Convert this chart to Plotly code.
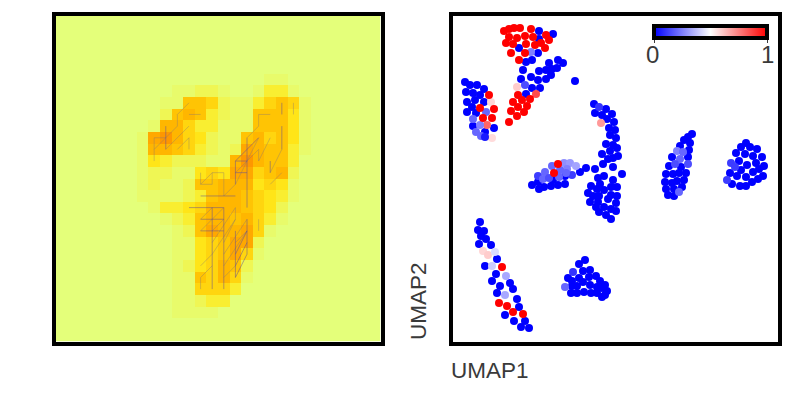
import plotly.graph_objects as go

# relevance map, one digit per pixel (28 x 28 digit), 0 = background
relevance_rows = [
    "0000000000000000000000000000",
    "0000000000000000000000000000",
    "0000000000000000000000000000",
    "0000000000000000000000000000",
    "0000000000000000000000000000",
    "0000000000000000001100000000",
    "0000000000112210013310000000",
    "0000000001166521135651000000",
    "0000000002676321166641000000",
    "0000000017753311166641000000",
    "0000000189754211675641000000",
    "0000000177653212876631000000",
    "0000000143222117976630000000",
    "0000000122114548856720000000",
    "0000000121126677745410000000",
    "0000000111123677654310000000",
    "0000000013345777654200000000",
    "0000000001236776753100000000",
    "0000000000126877851000000000",
    "0000000000114568820000000000",
    "0000000000114568510000000000",
    "0000000000124576200000000000",
    "0000000000116575100000000000",
    "0000000000115553000000000000",
    "0000000000112330000000000000",
    "0000000000111100000000000000",
    "0000000000000000000000000000",
    "0000000000000000000000000000",
]
digit_value = [0, 0.04, 0.1, 0.19, 0.27, 0.36, 0.46, 0.56, 0.68, 0.82]
wistia = [[0, "#E4FF7A"], [0.25, "#FFE81A"], [0.5, "#FFBD00"], [0.75, "#FFA000"], [1, "#FC7F00"]]

# strokes over the map: col0, row0, col1, row1
strong_strokes = [
    (13, 16, 13, 23), (14, 16, 14, 23), (15, 18, 15, 22), (16, 17, 16, 20),
    (16, 10, 16, 16), (15, 12, 15, 14), (15, 13, 16, 13), (15, 12, 16, 12),
    (12, 18, 14, 18), (12, 17, 14, 17), (11, 16, 14, 16), (12, 15, 15, 15),
    (9, 9, 9, 11), (19, 9, 19, 11), (19, 7, 19, 8), (18, 12, 18, 13),
    (15, 12, 17, 10), (15, 21, 16, 19), (15, 20, 16, 18), (15, 22, 16, 20),
]
faint_strokes = [
    (12, 18, 14, 16), (13, 18, 14, 17), (12, 17, 13, 16), (15, 16, 15, 17),
    (12, 22, 12, 23), (12, 22, 13, 21), (13, 20, 12, 21), (14, 21, 16, 18),
    (14, 20, 16, 17), (15, 19, 16, 18), (14, 22, 15, 21), (13, 19, 15, 16),
    (13, 20, 15, 17), (14, 19, 15, 17), (17, 17, 17, 18),
    (8, 10, 9, 10), (8, 10, 8, 12), (8, 11, 10, 9), (10, 8, 11, 7), (10, 8, 10, 9),
    (9, 11, 11, 9), (10, 11, 11, 10), (11, 10, 11, 11), (11, 8, 12, 8),
    (20, 7, 20, 8), (17, 8, 18, 8), (16, 10, 17, 9), (17, 8, 17, 9),
    (18, 13, 19, 11), (18, 14, 19, 13), (15, 14, 17, 10), (15, 13, 16, 12),
    (16, 12, 17, 11), (17, 11, 17, 12), (17, 12, 18, 10),
    (12, 13, 12, 14), (12, 14, 13, 14), (12, 14, 13, 13), (13, 13, 13, 14),
    (13, 13, 14, 13), (14, 13, 14, 15), (14, 15, 15, 14),
]

# UMAP embedding, split by expression level
zero_u1 = [539, 553, 539, 519, 538, 526, 532, 549, 558, 563, 557, 552, 546, 539, 523, 551, 531, 521, 538, 546,
           532, 540, 526, 575, 465, 470, 477, 484, 466, 473, 480, 467, 475, 484, 472, 467, 476, 473, 494, 485,
           594, 595, 602, 606, 612, 607, 614, 609, 615, 610, 616, 606, 613, 617, 610, 602, 618, 613, 608, 603,
           613, 595, 586, 580, 622, 604, 598, 613, 600, 591, 611, 617, 597, 604, 588, 593, 611, 617, 599, 608,
           598, 590, 616, 596, 604, 611, 616, 599, 606, 611, 532, 539, 538, 544, 551, 558, 565, 565, 553,
           692, 688, 684, 690, 680, 689, 688, 672, 669, 681, 686, 666, 673, 679, 684, 665, 672, 677, 682, 666,
           674, 668, 674, 746, 741, 750, 757, 736, 745, 753, 762, 739, 756, 747, 764, 741, 759, 753, 730, 737,
           746, 763, 758, 752, 732, 740, 746, 480, 478, 484, 481, 486, 479, 491, 497, 485, 496, 492, 510, 500,
           513, 497, 517, 519, 505, 514, 525, 521, 529, 585, 579, 590, 583, 596, 589, 579, 568, 572, 600, 583,
           572, 577, 590, 605, 597, 602, 607, 571, 577, 584, 591, 597, 605, 602]
zero_u2 = [31, 34, 39, 48, 53, 62, 60, 63, 60, 63, 68, 69, 70, 71, 70, 75, 77, 79, 80, 79,
           88, 88, 94, 81, 82, 85, 85, 89, 92, 93, 95, 102, 100, 102, 107, 112, 113, 126, 128, 132,
           104, 113, 115, 109, 114, 119, 122, 128, 130, 135, 138, 144, 145, 148, 151, 154, 156, 158, 159, 164,
           167, 169, 168, 172, 174, 176, 178, 180, 184, 186, 187, 187, 189, 190, 193, 196, 195, 196, 196, 199,
           202, 202, 203, 207, 207, 209, 211, 212, 215, 219, 185, 189, 182, 187, 186, 185, 184, 176, 180,
           134, 137, 140, 143, 146, 150, 157, 157, 166, 167, 173, 174, 174, 173, 180, 182, 183, 181, 187, 189,
           189, 195, 196, 143, 147, 147, 149, 153, 154, 156, 157, 161, 163, 165, 166, 170, 169, 172, 173, 176,
           177, 176, 179, 182, 184, 186, 186, 222, 230, 231, 236, 239, 244, 245, 259, 266, 274, 281, 283, 286,
           289, 293, 299, 307, 315, 321, 321, 327, 328, 260, 264, 270, 271, 276, 277, 278, 278, 281, 281, 282,
           286, 286, 285, 285, 287, 288, 291, 293, 293, 292, 293, 293, 295, 297]

one_u1 = [504, 509, 514, 520, 531, 509, 517, 525, 533, 546, 549, 506, 513, 526, 535, 541, 545, 511, 525, 519,
          518, 530, 522, 513, 527, 518, 511, 524, 517, 509, 489, 494, 480, 483, 492, 558, 554, 502, 499, 507,
          513, 523]
one_u2 = [31, 29, 28, 28, 29, 37, 38, 36, 37, 35, 40, 43, 44, 44, 45, 43, 48, 53, 53, 60,
          95, 99, 100, 102, 106, 107, 111, 112, 116, 122, 95, 109, 108, 118, 118, 164, 173, 267, 303, 306,
          312, 314]

mid_u1 = [531, 525, 517, 536, 491, 487, 492, 486, 473, 480, 476, 481, 485, 599, 601, 564, 570, 576, 552, 567,
          560, 545, 572, 538, 543, 549, 559, 566, 677, 683, 680, 675, 688, 679, 731, 735, 727, 483, 488, 495,
          492, 506, 505, 573, 565]
mid_u2 = [52, 85, 87, 94, 102, 125, 138, 112, 119, 125, 132, 136, 137, 107, 123, 163, 163, 166, 166, 169,
          170, 172, 175, 176, 179, 178, 177, 173, 151, 152, 159, 164, 164, 192, 163, 167, 180, 251, 255, 252,
          266, 276, 295, 272, 287]
mid_level = [.25, .15, .6, .85, .58, .8, .57, .2, .2, .25, .2, .2, .05, .1, .7, .28, .3, .32, .2, .25,
             .2, .2, .12, .12, .2, .15, .2, .2, .25, .2, .2, .15, .15, .2, .12, .12, .12, .58, .6, .43,
             .4, .33, .33, .1, .2]

umap1 = zero_u1 + mid_u1 + one_u1
umap2 = zero_u2 + mid_u2 + one_u2
level = [0] * len(zero_u1) + mid_level + [1] * len(one_u1)


def stroke_path(strokes):
    xs, ys = [], []
    for c0, r0, c1, r1 in strokes:
        xs += [c0, c1, None]
        ys += [r0, r1, None]
    return xs, ys


# the page body has an 8px margin, so the figure sits 8px in from the window corner
PAD = 8
W, H = 793 - PAD, 397 - PAD
TEXT = "#3a3a3a"


def fx(px):
    return (px - PAD) / W


def fy(py):
    return 1 - (py - PAD) / H


fig = go.Figure()

z = [[digit_value[int(d)] for d in row] for row in relevance_rows]
fig.add_trace(go.Heatmap(z=z, colorscale=wistia, zmin=0, zmax=1, showscale=False, xaxis="x", yaxis="y"))

faint_x, faint_y = stroke_path(faint_strokes)
strong_x, strong_y = stroke_path(strong_strokes)
fig.add_trace(go.Scatter(x=faint_x, y=faint_y, mode="lines", xaxis="x", yaxis="y", showlegend=False,
                         line=dict(color="rgba(125,115,120,0.4)", width=0.9)))
fig.add_trace(go.Scatter(x=strong_x, y=strong_y, mode="lines", xaxis="x", yaxis="y", showlegend=False,
                         line=dict(color="rgba(95,75,150,0.55)", width=0.9)))

fig.add_trace(go.Scatter(
    x=umap1, y=umap2, mode="markers", xaxis="x2", yaxis="y2", showlegend=False,
    marker=dict(
        size=8, color=level, cmin=0, cmax=1,
        colorscale=[[0, "#0000FF"], [0.5, "#FFFFFF"], [1, "#FF0000"]],
        colorbar=dict(
            orientation="h", lenmode="pixels", len=113, thickness=12,
            x=fx(654), xanchor="left", y=fy(26), yanchor="top", xpad=0, ypad=0,
            outlinewidth=4, outlinecolor="black", tickvals=[0, 1], ticks="outside",
            ticklen=3, tickcolor=TEXT, showticklabels=False,
        ),
    ),
))

frame = dict(showticklabels=False, ticks="", showgrid=False, zeroline=False,
             mirror=True, showline=True, linecolor="black", linewidth=4)
label_font = dict(family="Liberation Sans", size=22.5, color=TEXT)
tick_font = dict(family="Liberation Sans", size=24, color=TEXT)
fig.update_layout(
    width=W, height=H, margin=dict(l=0, r=0, t=0, b=0),
    paper_bgcolor="white", plot_bgcolor="white",
    xaxis=dict(domain=[fx(55.5), fx(380.5)], range=[-0.5, 27.5], anchor="y", **frame),
    yaxis=dict(domain=[fy(341.5), fy(15.5)], range=[27.5, -0.5], anchor="x", **frame),
    xaxis2=dict(domain=[fx(453), fx(777.5)], range=[453, 777.5], anchor="y2", **frame),
    yaxis2=dict(domain=[fy(341.5), fy(15.5)], range=[341.5, 15.5], anchor="x2", **frame),
    annotations=[
        dict(text="UMAP1", xref="paper", yref="paper", x=fx(448.5), y=fy(370), xanchor="left", yanchor="middle",
             showarrow=False, font=label_font),
        dict(text="UMAP2", xref="paper", yref="paper", x=fx(418), y=fy(342), xanchor="center", yanchor="bottom",
             textangle=-90, showarrow=False, font=label_font),
        dict(text="0", xref="paper", yref="paper", x=fx(652), y=fy(54), xanchor="center", yanchor="middle",
             showarrow=False, font=tick_font),
        dict(text="1", xref="paper", yref="paper", x=fx(767), y=fy(54), xanchor="center", yanchor="middle",
             showarrow=False, font=tick_font),
    ],
)

fig.write_html("out.html")
